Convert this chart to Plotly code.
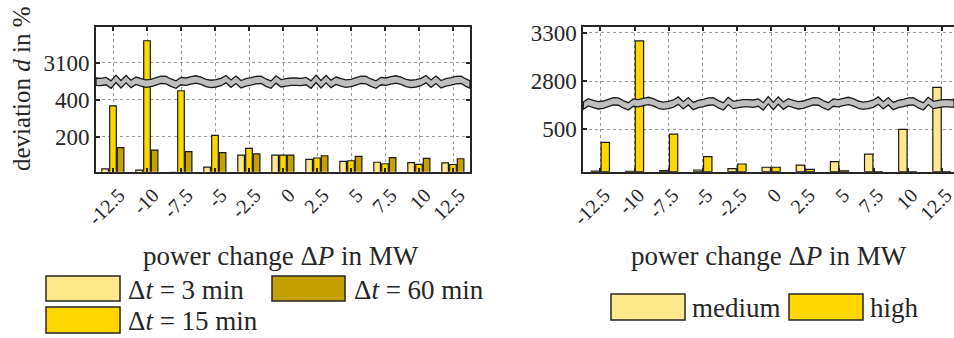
import plotly.graph_objects as go

W, H = 954, 338

# ---------------- data ----------------
categories = ["-12.5", "-10", "-7.5", "-5", "-2.5", "0", "2.5", "5", "7.5", "10", "12.5"]
dt3 = [27, 21, 8, 37, 102, 102, 79, 68, 63, 61, 60]
dt15 = [367, 3219, 449, 208, 138, 102, 86, 71, 55, 52, 51]
dt60 = [142, 129, 120, 115, 108, 102, 98, 95, 88, 84, 82]
medium = [8, 5, 14, 20, 35, 52, 76, 119, 205, 496, 2735]
high = [344, 3217, 441, 176, 90, 52, 28, 10, 0, 0, 0]
left_ticks = [200, 400, 3100]
right_ticks = [500, 2800, 3300]

# ---------------- styling ----------------
LIGHT = "#FFE98A"
GOLD = "#FFD700"
DARK = "#C4A000"
INK = "#262626"
FONT = "Liberation Serif"

# broken-axis transforms (lower part kept, upper part shifted down)
def tr_left(v):
    return v if v <= 500 else 500 + (v - 3000)

def tr_right(v):
    return v if v <= 800 else 800 + (v - 2570) * 1.13

def px2x(px):
    return px / W

def px2y(py):
    return 1 - py / H

fig = go.Figure()

left_w = 6.6 / 34.0
for vals, col, c in [(dt3, LIGHT, -7.9), (dt15, GOLD, 0.0), (dt60, DARK, 7.6)]:
    fig.add_trace(go.Bar(
        x=categories, y=[tr_left(v) for v in vals],
        marker=dict(color=col, line=dict(color="#1a1a1a", width=1.2)),
        width=left_w, offset=c / 34.0 - left_w / 2,
        xaxis="x", yaxis="y", showlegend=False, hoverinfo="skip"))

right_w = 8.4 / 34.17
for vals, col, c in [(medium, LIGHT, -4.9), (high, GOLD, 4.9)]:
    fig.add_trace(go.Bar(
        x=categories, y=[tr_right(v) for v in vals],
        marker=dict(color=col, line=dict(color="#1a1a1a", width=1.2)),
        width=right_w, offset=c / 34.17 - right_w / 2,
        xaxis="x2", yaxis="y2", showlegend=False, hoverinfo="skip"))

axis_common = dict(
    showline=True, linewidth=2, linecolor=INK,
    ticks="inside", ticklen=4, tickwidth=2, tickcolor=INK,
    showgrid=True, gridcolor="#9a9a9a", griddash="dot", gridwidth=1,
    zeroline=False, automargin=False,
)

ydom = [px2y(171.7), px2y(26.7)]

fig.update_layout(
    width=W, height=H,
    margin=dict(l=0, r=0, t=0, b=0, autoexpand=False),
    paper_bgcolor="white", plot_bgcolor="white",
    barmode="overlay",
    font=dict(family=FONT, color=INK),
    xaxis=dict(**axis_common, type="category", domain=[px2x(96), px2x(470)],
               range=[-0.5, 10.5], mirror="ticks", anchor="y",
               tickangle=-45, tickfont=dict(family=FONT, size=20, color=INK),
               ticklabelshift=6, ticklabelstandoff=2),
    yaxis=dict(**axis_common, domain=ydom, range=[12, 795], mirror="ticks", anchor="x",
               tickvals=[tr_left(v) for v in left_ticks],
               ticktext=[str(v) for v in left_ticks],
               tickfont=dict(family=FONT, size=23, color=INK)),
    xaxis2=dict(**axis_common, type="category", domain=[px2x(583.3), 1.0],
                range=[-0.5, 10.5 - 5.0 / 34.17], mirror="ticks", anchor="y2",
                tickangle=-45, tickfont=dict(family=FONT, size=20, color=INK),
                ticklabelshift=4, ticklabelstandoff=2),
    yaxis2=dict(**axis_common, domain=ydom, range=[0, 1698], mirror=False, anchor="x2",
                tickvals=[tr_right(v) for v in right_ticks],
                ticktext=[str(v) for v in right_ticks],
                tickfont=dict(family=FONT, size=23, color=INK)),
)

# ---------------- axis-break bands (decoration) ----------------
wiggle = [0.0, 0.1, -0.2, 0.9, -0.9, 0.8, -0.8, 0.7, -0.3, 0.2, 0.6, 0.4, -0.1, -0.6,
          -0.5, 0.3, 0.9, -0.2, 0.0, -0.4, -0.7, -0.3, 0.4, 0.7, 0.5, 0.1, -0.8, 0.6,
          -0.6, 0.8, 0.2, -0.1, -0.5, -0.6, 0.3, 0.9, -0.7, 0.5, 0.2, 0.0]

def band(x0, x1, yc, thick, amp, start):
    step = 5.0
    xs = []
    x = x0
    while x < x1:
        xs.append(x)
        x += step
    xs.append(x1)
    top = []
    for i, xx in enumerate(xs):
        w = wiggle[(i + start) % len(wiggle)]
        top.append((xx, yc - thick / 2 + amp * w))
    bot = [(xx, yy + thick) for xx, yy in top]
    pts = top + bot[::-1]
    path = "M " + " L ".join(f"{px2x(a):.5f},{px2y(b):.5f}" for a, b in pts) + " Z"
    fig.add_shape(type="path", path=path, xref="paper", yref="paper",
                  fillcolor="#BEBEBE", line=dict(color="#1a1a1a", width=1.3), layer="above")

band(96, 470, 81.7, 7.4, 3.2, 0)
band(583.3, 954, 103.3, 7.3, 3.4, 7)

# ---------------- titles ----------------
fig.add_annotation(text="deviation <i>d</i> in %", x=px2x(21), y=px2y(89),
                   xref="paper", yref="paper", textangle=-90, showarrow=False,
                   font=dict(family=FONT, size=25, color=INK),
                   xanchor="center", yanchor="middle")
for cx in (280.5, 769):
    fig.add_annotation(text="power change Δ<i>P</i> in MW", x=px2x(cx), y=px2y(256),
                       xref="paper", yref="paper", showarrow=False,
                       font=dict(family=FONT, size=27, color=INK),
                       xanchor="center", yanchor="middle")

# ---------------- manual legends ----------------
legend_items = [
    (46, 120, 276, 301, LIGHT, "Δ<i>t</i> = 3 min", 126),
    (272, 345, 276, 301, DARK, "Δ<i>t</i> = 60 min", 352),
    (46, 120, 307, 333, GOLD, "Δ<i>t</i> = 15 min", 126),
    (611, 685, 294, 320, LIGHT, "medium", 690),
    (789, 863, 294, 320, GOLD, "high", 868),
]
for x0, x1, y0, y1, col, label, tx in legend_items:
    fig.add_shape(type="rect", xref="paper", yref="paper",
                  x0=px2x(x0), x1=px2x(x1), y0=px2y(y1), y1=px2y(y0),
                  fillcolor=col, line=dict(color=INK, width=1.5))
    fig.add_annotation(text=label, x=px2x(tx), y=px2y((y0 + y1) / 2 + 1),
                       xref="paper", yref="paper", showarrow=False,
                       font=dict(family=FONT, size=27, color=INK),
                       xanchor="left", yanchor="middle")

fig.write_html(
    "out.html",
    config={"displayModeBar": False},
    post_script="document.body.style.margin='0';document.body.style.overflow='hidden';",
)
